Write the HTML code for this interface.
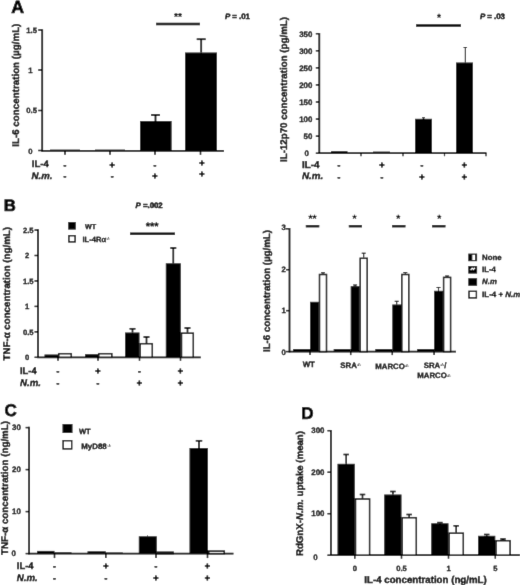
<!DOCTYPE html>
<html><head><meta charset="utf-8"><title>Figure</title>
<style>html,body{margin:0;padding:0;background:#fff}svg{display:block;text-rendering:geometricPrecision}text{font-family:"Liberation Sans",Arial,sans-serif;fill:#000;stroke:#000;stroke-width:.35px}</style>
</head><body>
<svg width="520" height="585" viewBox="0 0 520 585">
<rect width="520" height="585" fill="#fff"/>
<defs><filter id="soft" x="-5" y="-5" width="530" height="595" filterUnits="userSpaceOnUse"><feConvolveMatrix order="3" kernelMatrix="0.006 0.07 0.006 0.07 0.696 0.07 0.006 0.07 0.006" divisor="1" edgeMode="duplicate" preserveAlpha="false"/></filter></defs>
<g filter="url(#soft)">
<rect x="-5" y="-5" width="530" height="595" fill="#fff"/>
<text x="11.2" y="12.6" font-size="17.8" font-weight="bold" font-style="normal" text-anchor="start" style="stroke-width:.7px">A</text>
<line x1="42.2" y1="29.3" x2="42.2" y2="151.5" stroke="#000" stroke-width="1.8"/>
<line x1="41.5" y1="150.8" x2="224" y2="150.8" stroke="#000" stroke-width="1.8"/>
<line x1="38.2" y1="30" x2="42.2" y2="30" stroke="#000" stroke-width="1.5"/>
<text x="37" y="32.6" font-size="7.7" font-weight="bold" font-style="normal" text-anchor="end" style="stroke-width:0.29px">1.5</text>
<line x1="38.2" y1="70" x2="42.2" y2="70" stroke="#000" stroke-width="1.5"/>
<text x="32.5" y="72.6" font-size="7.7" font-weight="bold" font-style="normal" text-anchor="end" style="stroke-width:0.29px">1</text>
<line x1="38.2" y1="110.5" x2="42.2" y2="110.5" stroke="#000" stroke-width="1.5"/>
<text x="37" y="113.1" font-size="7.7" font-weight="bold" font-style="normal" text-anchor="end" style="stroke-width:0.29px">0.5</text>
<line x1="38.2" y1="150.5" x2="42.2" y2="150.5" stroke="#000" stroke-width="1.5"/>
<text x="32.5" y="153.8" font-size="7.7" font-weight="bold" font-style="normal" text-anchor="end" style="stroke-width:0.29px">0</text>
<line x1="65" y1="150.8" x2="65" y2="154.8" stroke="#000" stroke-width="1.55"/>
<line x1="110" y1="150.8" x2="110" y2="154.8" stroke="#000" stroke-width="1.55"/>
<line x1="155" y1="150.8" x2="155" y2="154.8" stroke="#000" stroke-width="1.55"/>
<line x1="200.5" y1="150.8" x2="200.5" y2="154.8" stroke="#000" stroke-width="1.55"/>
<rect x="50" y="149.6" width="30" height="1" fill="#000"/>
<rect x="95" y="149.6" width="30" height="1" fill="#000"/>
<rect x="140" y="121" width="31.599999999999994" height="29.80000000000001" fill="#000"/>
<rect x="185" y="52.5" width="32" height="98.30000000000001" fill="#000"/>
<line x1="155.5" y1="121" x2="155.5" y2="115" stroke="#000" stroke-width="1.8"/>
<line x1="151.0" y1="115" x2="160.0" y2="115" stroke="#000" stroke-width="1.8"/>
<line x1="201.2" y1="52.5" x2="201.2" y2="39.2" stroke="#000" stroke-width="1.8"/>
<line x1="196.7" y1="39.2" x2="205.7" y2="39.2" stroke="#000" stroke-width="1.8"/>
<line x1="156" y1="24" x2="200" y2="24" stroke="#000" stroke-width="2.6"/>
<text x="178" y="20.2" font-size="10.2" font-weight="bold" font-style="normal" text-anchor="middle" style="stroke-width:.15px">**</text>
<text x="225" y="19.3" font-size="7.8" font-weight="bold" font-style="normal" text-anchor="start" style="stroke-width:.5px"><tspan font-style="italic">P</tspan> = .01</text>
<text x="19.3" y="146.8" font-size="9.8" font-weight="bold" font-style="normal" text-anchor="start" transform="rotate(-90 19.3 146.8)" textLength="123.2" lengthAdjust="spacingAndGlyphs" style="stroke-width:0.37px">IL-6 concentration (µg/mL)</text>
<text x="31.8" y="167.3" font-size="9.6" font-weight="bold" font-style="normal" text-anchor="start" style="stroke-width:0.36px">IL-4</text>
<text x="31.6" y="178.9" font-size="9.6" font-weight="bold" font-style="italic" text-anchor="start" style="stroke-width:0.36px">N.m.</text>
<text x="65" y="167.5" font-size="8.5" font-weight="bold" font-style="normal" text-anchor="middle" style="stroke-width:.5px">-</text>
<text x="65" y="179.0" font-size="8.5" font-weight="bold" font-style="normal" text-anchor="middle" style="stroke-width:.5px">-</text>
<text x="112.2" y="167.5" font-size="9" font-weight="bold" font-style="normal" text-anchor="middle" style="stroke-width:.6px">+</text>
<text x="112.2" y="179.0" font-size="8.5" font-weight="bold" font-style="normal" text-anchor="middle" style="stroke-width:.5px">-</text>
<text x="155" y="167.5" font-size="8.5" font-weight="bold" font-style="normal" text-anchor="middle" style="stroke-width:.5px">-</text>
<text x="155" y="179.0" font-size="9" font-weight="bold" font-style="normal" text-anchor="middle" style="stroke-width:.6px">+</text>
<text x="202" y="165.8" font-size="9" font-weight="bold" font-style="normal" text-anchor="middle" style="stroke-width:.6px">+</text>
<text x="202" y="177.3" font-size="9" font-weight="bold" font-style="normal" text-anchor="middle" style="stroke-width:.6px">+</text>
<line x1="319.3" y1="33" x2="319.3" y2="153.89999999999998" stroke="#000" stroke-width="1.8"/>
<line x1="318.6" y1="153.2" x2="486.5" y2="153.2" stroke="#000" stroke-width="1.8"/>
<line x1="315.8" y1="153.2" x2="319.3" y2="153.2" stroke="#000" stroke-width="1.5"/>
<text x="308.8" y="156.0" font-size="7.9" font-weight="bold" font-style="normal" text-anchor="end" style="stroke-width:0.3px">0</text>
<line x1="315.8" y1="136.13" x2="319.3" y2="136.13" stroke="#000" stroke-width="1.5"/>
<text x="312.3" y="138.93" font-size="7.9" font-weight="bold" font-style="normal" text-anchor="end" style="stroke-width:0.3px">50</text>
<line x1="315.8" y1="119.05999999999999" x2="319.3" y2="119.05999999999999" stroke="#000" stroke-width="1.5"/>
<text x="312.3" y="121.85999999999999" font-size="7.9" font-weight="bold" font-style="normal" text-anchor="end" style="stroke-width:0.3px">100</text>
<line x1="315.8" y1="101.98999999999998" x2="319.3" y2="101.98999999999998" stroke="#000" stroke-width="1.5"/>
<text x="312.3" y="104.78999999999998" font-size="7.9" font-weight="bold" font-style="normal" text-anchor="end" style="stroke-width:0.3px">150</text>
<line x1="315.8" y1="84.91999999999999" x2="319.3" y2="84.91999999999999" stroke="#000" stroke-width="1.5"/>
<text x="312.3" y="87.71999999999998" font-size="7.9" font-weight="bold" font-style="normal" text-anchor="end" style="stroke-width:0.3px">200</text>
<line x1="315.8" y1="67.85" x2="319.3" y2="67.85" stroke="#000" stroke-width="1.5"/>
<text x="312.3" y="70.64999999999999" font-size="7.9" font-weight="bold" font-style="normal" text-anchor="end" style="stroke-width:0.3px">250</text>
<line x1="315.8" y1="50.77999999999999" x2="319.3" y2="50.77999999999999" stroke="#000" stroke-width="1.5"/>
<text x="312.3" y="53.579999999999984" font-size="7.9" font-weight="bold" font-style="normal" text-anchor="end" style="stroke-width:0.3px">300</text>
<line x1="315.8" y1="33.70999999999998" x2="319.3" y2="33.70999999999998" stroke="#000" stroke-width="1.5"/>
<text x="312.3" y="36.50999999999998" font-size="7.9" font-weight="bold" font-style="normal" text-anchor="end" style="stroke-width:0.3px">350</text>
<line x1="361" y1="153.2" x2="361" y2="156.2" stroke="#000" stroke-width="1.2"/>
<line x1="403" y1="153.2" x2="403" y2="156.2" stroke="#000" stroke-width="1.2"/>
<line x1="444.5" y1="153.2" x2="444.5" y2="156.2" stroke="#000" stroke-width="1.2"/>
<line x1="486" y1="153.2" x2="486" y2="156.2" stroke="#000" stroke-width="1.2"/>
<rect x="331" y="151.2" width="16.5" height="2.0" fill="#000"/>
<rect x="373" y="151.6" width="17" height="1.5999999999999943" fill="#000"/>
<rect x="415" y="118.8" width="17" height="34.39999999999999" fill="#000"/>
<rect x="456" y="62.5" width="17" height="90.69999999999999" fill="#000"/>
<line x1="465.3" y1="62.5" x2="465.3" y2="47.5" stroke="#000" stroke-width="1.0"/>
<line x1="463.55" y1="47.5" x2="467.05" y2="47.5" stroke="#000" stroke-width="1.0"/>
<line x1="423.5" y1="118.8" x2="423.5" y2="117.8" stroke="#000" stroke-width="1.0"/>
<line x1="422.0" y1="117.8" x2="425.0" y2="117.8" stroke="#000" stroke-width="1.0"/>
<line x1="416" y1="25.6" x2="461" y2="25.6" stroke="#000" stroke-width="2.5"/>
<text x="439" y="21.1" font-size="10.3" font-weight="bold" font-style="normal" text-anchor="middle" style="stroke-width:.15px">*</text>
<text x="480" y="19.3" font-size="7.8" font-weight="bold" font-style="normal" text-anchor="start" style="stroke-width:.5px"><tspan font-style="italic">P</tspan> = .03</text>
<text x="287.3" y="162" font-size="9.8" font-weight="bold" font-style="normal" text-anchor="start" transform="rotate(-90 287.3 162)" textLength="145" lengthAdjust="spacingAndGlyphs" style="stroke-width:0.37px">IL-12p70 concentration (pg/mL)</text>
<text x="302" y="167.5" font-size="9.8" font-weight="bold" font-style="normal" text-anchor="start" textLength="17.5" lengthAdjust="spacingAndGlyphs" style="stroke-width:0.37px">IL-4</text>
<text x="302" y="179.1" font-size="9.6" font-weight="bold" font-style="italic" text-anchor="start" textLength="21.3" lengthAdjust="spacingAndGlyphs" style="stroke-width:0.36px">N.m.</text>
<text x="339" y="168.0" font-size="8.5" font-weight="bold" font-style="normal" text-anchor="middle" style="stroke-width:.5px">-</text>
<text x="339" y="180.0" font-size="8.5" font-weight="bold" font-style="normal" text-anchor="middle" style="stroke-width:.5px">-</text>
<text x="382" y="168.0" font-size="9" font-weight="bold" font-style="normal" text-anchor="middle" style="stroke-width:.6px">+</text>
<text x="382" y="180.0" font-size="8.5" font-weight="bold" font-style="normal" text-anchor="middle" style="stroke-width:.5px">-</text>
<text x="422" y="168.0" font-size="8.5" font-weight="bold" font-style="normal" text-anchor="middle" style="stroke-width:.5px">-</text>
<text x="422" y="180.0" font-size="9" font-weight="bold" font-style="normal" text-anchor="middle" style="stroke-width:.6px">+</text>
<text x="464.5" y="168.0" font-size="9" font-weight="bold" font-style="normal" text-anchor="middle" style="stroke-width:.6px">+</text>
<text x="464.5" y="180.0" font-size="9" font-weight="bold" font-style="normal" text-anchor="middle" style="stroke-width:.6px">+</text>
<text x="3.8" y="210.7" font-size="16.7" font-weight="bold" font-style="normal" text-anchor="start" style="stroke-width:.7px">B</text>
<line x1="38" y1="229.3" x2="38" y2="358.0" stroke="#000" stroke-width="1.8"/>
<line x1="37.3" y1="357.3" x2="200.8" y2="357.3" stroke="#000" stroke-width="1.8"/>
<line x1="34.5" y1="357.3" x2="38" y2="357.3" stroke="#000" stroke-width="1.5"/>
<text x="29.3" y="360.2" font-size="7.7" font-weight="bold" font-style="normal" text-anchor="end" style="stroke-width:0.29px">0</text>
<line x1="34.5" y1="331.85" x2="38" y2="331.85" stroke="#000" stroke-width="1.5"/>
<text x="33.6" y="334.75" font-size="7.7" font-weight="bold" font-style="normal" text-anchor="end" style="stroke-width:0.29px">0.5</text>
<line x1="34.5" y1="306.40000000000003" x2="38" y2="306.40000000000003" stroke="#000" stroke-width="1.5"/>
<text x="29.3" y="309.3" font-size="7.7" font-weight="bold" font-style="normal" text-anchor="end" style="stroke-width:0.29px">1</text>
<line x1="34.5" y1="280.95000000000005" x2="38" y2="280.95000000000005" stroke="#000" stroke-width="1.5"/>
<text x="33.6" y="283.85" font-size="7.7" font-weight="bold" font-style="normal" text-anchor="end" style="stroke-width:0.29px">1.5</text>
<line x1="34.5" y1="255.5" x2="38" y2="255.5" stroke="#000" stroke-width="1.5"/>
<text x="29.3" y="258.4" font-size="7.7" font-weight="bold" font-style="normal" text-anchor="end" style="stroke-width:0.29px">2</text>
<line x1="34.5" y1="230.05" x2="38" y2="230.05" stroke="#000" stroke-width="1.5"/>
<text x="33.6" y="232.95000000000002" font-size="7.7" font-weight="bold" font-style="normal" text-anchor="end" style="stroke-width:0.29px">2.5</text>
<line x1="58" y1="357.3" x2="58" y2="360.8" stroke="#000" stroke-width="1.5"/>
<line x1="98" y1="357.3" x2="98" y2="360.8" stroke="#000" stroke-width="1.5"/>
<line x1="139.5" y1="357.3" x2="139.5" y2="360.8" stroke="#000" stroke-width="1.5"/>
<line x1="180.5" y1="357.3" x2="180.5" y2="360.8" stroke="#000" stroke-width="1.5"/>
<rect x="44.5" y="354.5" width="13.5" height="2.8000000000000114" fill="#000"/>
<rect x="58.7" y="353.7" width="12.6" height="3.600000000000011" fill="#fff" stroke="#000" stroke-width="1.5"/>
<rect x="85" y="354.2" width="13" height="3.1000000000000227" fill="#000"/>
<rect x="98.7" y="353.7" width="13.1" height="3.600000000000011" fill="#fff" stroke="#000" stroke-width="1.5"/>
<rect x="125" y="332.5" width="14.5" height="24.80000000000001" fill="#000"/>
<rect x="140.2" y="343.7" width="12.1" height="13.600000000000012" fill="#fff" stroke="#000" stroke-width="1.5"/>
<rect x="165.8" y="263.3" width="15.0" height="94.0" fill="#000"/>
<rect x="181.5" y="333.2" width="11.799999999999988" height="24.100000000000012" fill="#fff" stroke="#000" stroke-width="1.5"/>
<line x1="132.5" y1="332.5" x2="132.5" y2="328.8" stroke="#000" stroke-width="1.7"/>
<line x1="129.5" y1="328.8" x2="135.5" y2="328.8" stroke="#000" stroke-width="1.7"/>
<line x1="146.5" y1="343" x2="146.5" y2="337" stroke="#000" stroke-width="1.7"/>
<line x1="143.5" y1="337" x2="149.5" y2="337" stroke="#000" stroke-width="1.7"/>
<line x1="173.3" y1="263.3" x2="173.3" y2="248" stroke="#000" stroke-width="1.7"/>
<line x1="170.3" y1="248" x2="176.3" y2="248" stroke="#000" stroke-width="1.7"/>
<line x1="187.5" y1="332.5" x2="187.5" y2="328" stroke="#000" stroke-width="1.7"/>
<line x1="184.5" y1="328" x2="190.5" y2="328" stroke="#000" stroke-width="1.7"/>
<line x1="130" y1="233.7" x2="175" y2="233.7" stroke="#000" stroke-width="2.6"/>
<text x="152.2" y="229.8" font-size="11" font-weight="bold" font-style="normal" text-anchor="middle" style="stroke-width:.15px">***</text>
<text x="135.6" y="208.2" font-size="7.8" font-weight="bold" font-style="normal" text-anchor="start" style="stroke-width:.5px"><tspan font-style="italic">P</tspan> =.002</text>
<rect x="68.2" y="222" width="7.6" height="7.6" fill="#000"/>
<text x="85" y="229.3" font-size="7.2" font-weight="bold" font-style="normal" text-anchor="start" style="stroke-width:0.27px">WT</text>
<rect x="68.9" y="235.7" width="6.2" height="6.2" fill="#fff" stroke="#000" stroke-width="1.4"/>
<text x="82.5" y="242" font-size="7.6" font-weight="bold" font-style="normal" text-anchor="start" style="stroke-width:0.29px">IL-4Rα<tspan font-size="4" dy="-1.8" style="stroke-width:.08px">-/-</tspan></text>
<text x="10.3" y="360.5" font-size="9.8" font-weight="bold" font-style="normal" text-anchor="start" transform="rotate(-90 10.3 360.5)" textLength="133.5" lengthAdjust="spacingAndGlyphs" style="stroke-width:0.37px">TNF-α concentration (ng/mL)</text>
<text x="20" y="373.8" font-size="9.4" font-weight="bold" font-style="normal" text-anchor="start" style="stroke-width:0.36px">IL-4</text>
<text x="20" y="386.1" font-size="9.7" font-weight="bold" font-style="italic" text-anchor="start" style="stroke-width:0.37px">N.m.</text>
<text x="58" y="373.5" font-size="8.5" font-weight="bold" font-style="normal" text-anchor="middle" style="stroke-width:.5px">-</text>
<text x="58" y="385.5" font-size="8.5" font-weight="bold" font-style="normal" text-anchor="middle" style="stroke-width:.5px">-</text>
<text x="98" y="373.5" font-size="9" font-weight="bold" font-style="normal" text-anchor="middle" style="stroke-width:.6px">+</text>
<text x="98" y="385.5" font-size="8.5" font-weight="bold" font-style="normal" text-anchor="middle" style="stroke-width:.5px">-</text>
<text x="139.5" y="373.5" font-size="8.5" font-weight="bold" font-style="normal" text-anchor="middle" style="stroke-width:.5px">-</text>
<text x="139.5" y="385.5" font-size="9" font-weight="bold" font-style="normal" text-anchor="middle" style="stroke-width:.6px">+</text>
<text x="180.5" y="373.5" font-size="9" font-weight="bold" font-style="normal" text-anchor="middle" style="stroke-width:.6px">+</text>
<text x="180.5" y="385.5" font-size="9" font-weight="bold" font-style="normal" text-anchor="middle" style="stroke-width:.6px">+</text>
<defs><pattern id="hv" width="3" height="3" patternUnits="userSpaceOnUse"><rect width="3" height="3" fill="#fff"/><rect width="1.5" height="3" fill="#000"/></pattern><pattern id="hd" width="3" height="3" patternUnits="userSpaceOnUse"><rect width="3" height="3" fill="#000"/><path d="M0,3 L3,0" stroke="#fff" stroke-width="1"/></pattern></defs>
<line x1="289.5" y1="228" x2="289.5" y2="352.3" stroke="#000" stroke-width="1.8"/>
<line x1="288.8" y1="351.6" x2="456" y2="351.6" stroke="#000" stroke-width="1.8"/>
<line x1="286.0" y1="351.6" x2="289.5" y2="351.6" stroke="#000" stroke-width="1.5"/>
<text x="285.8" y="354.5" font-size="7.8" font-weight="bold" font-style="normal" text-anchor="end" style="stroke-width:0.3px">0</text>
<line x1="286.0" y1="310.65000000000003" x2="289.5" y2="310.65000000000003" stroke="#000" stroke-width="1.5"/>
<text x="285.8" y="313.15000000000003" font-size="7.8" font-weight="bold" font-style="normal" text-anchor="end" style="stroke-width:0.3px">1</text>
<line x1="286.0" y1="269.70000000000005" x2="289.5" y2="269.70000000000005" stroke="#000" stroke-width="1.5"/>
<text x="285.8" y="271.8" font-size="7.8" font-weight="bold" font-style="normal" text-anchor="end" style="stroke-width:0.3px">2</text>
<line x1="286.0" y1="228.75" x2="289.5" y2="228.75" stroke="#000" stroke-width="1.5"/>
<text x="285.8" y="230.45000000000002" font-size="7.8" font-weight="bold" font-style="normal" text-anchor="end" style="stroke-width:0.3px">3</text>
<line x1="310" y1="351.6" x2="310" y2="355.1" stroke="#000" stroke-width="1.5"/>
<rect x="293" y="349" width="17" height="2.3" fill="#000"/>
<rect x="310" y="301.8" width="8.800000000000011" height="49.80000000000001" fill="#000"/>
<rect x="319.5" y="274.5" width="6.999999999999977" height="77.10000000000001" fill="#fff" stroke="#000" stroke-width="1.5"/>
<line x1="323" y1="273.8" x2="323" y2="272.8" stroke="#000" stroke-width="1.1"/>
<line x1="321.0" y1="272.8" x2="325.0" y2="272.8" stroke="#000" stroke-width="1.1"/>
<line x1="350.7" y1="351.6" x2="350.7" y2="355.1" stroke="#000" stroke-width="1.5"/>
<rect x="333.7" y="349" width="17" height="2.3" fill="#000"/>
<rect x="350.7" y="286.2" width="8.800000000000011" height="65.40000000000003" fill="#000"/>
<rect x="360.2" y="258.3" width="6.999999999999977" height="93.3" fill="#fff" stroke="#000" stroke-width="1.5"/>
<line x1="355.09999999999997" y1="286.2" x2="355.09999999999997" y2="285" stroke="#000" stroke-width="1.1"/>
<line x1="353.09999999999997" y1="285" x2="357.09999999999997" y2="285" stroke="#000" stroke-width="1.1"/>
<line x1="363.7" y1="257.6" x2="363.7" y2="253.2" stroke="#000" stroke-width="1.1"/>
<line x1="361.7" y1="253.2" x2="365.7" y2="253.2" stroke="#000" stroke-width="1.1"/>
<line x1="392.3" y1="351.6" x2="392.3" y2="355.1" stroke="#000" stroke-width="1.5"/>
<rect x="375.3" y="349" width="17" height="2.3" fill="#000"/>
<rect x="392.3" y="304.5" width="8.800000000000011" height="47.10000000000002" fill="#000"/>
<rect x="401.8" y="274.5" width="6.999999999999977" height="77.10000000000001" fill="#fff" stroke="#000" stroke-width="1.5"/>
<line x1="396.7" y1="304.5" x2="396.7" y2="301.3" stroke="#000" stroke-width="1.1"/>
<line x1="394.7" y1="301.3" x2="398.7" y2="301.3" stroke="#000" stroke-width="1.1"/>
<line x1="405.3" y1="273.8" x2="405.3" y2="272.6" stroke="#000" stroke-width="1.1"/>
<line x1="403.3" y1="272.6" x2="407.3" y2="272.6" stroke="#000" stroke-width="1.1"/>
<line x1="434.1" y1="351.6" x2="434.1" y2="355.1" stroke="#000" stroke-width="1.5"/>
<rect x="417.1" y="349" width="17" height="2.3" fill="#000"/>
<rect x="434.1" y="290.8" width="8.800000000000011" height="60.80000000000001" fill="#000"/>
<rect x="443.6" y="277.4" width="6.999999999999977" height="74.20000000000003" fill="#fff" stroke="#000" stroke-width="1.5"/>
<line x1="438.5" y1="290.8" x2="438.5" y2="287.5" stroke="#000" stroke-width="1.1"/>
<line x1="436.5" y1="287.5" x2="440.5" y2="287.5" stroke="#000" stroke-width="1.1"/>
<line x1="447.1" y1="276.7" x2="447.1" y2="276.0" stroke="#000" stroke-width="1.1"/>
<line x1="445.1" y1="276.0" x2="449.1" y2="276.0" stroke="#000" stroke-width="1.1"/>
<line x1="305.8" y1="226.2" x2="319.3" y2="226.2" stroke="#000" stroke-width="2.4"/>
<line x1="348.8" y1="226.2" x2="362" y2="226.2" stroke="#000" stroke-width="2.4"/>
<line x1="392" y1="226.2" x2="405.5" y2="226.2" stroke="#000" stroke-width="2.4"/>
<line x1="432" y1="226.2" x2="445.5" y2="226.2" stroke="#000" stroke-width="2.4"/>
<text x="312.6" y="222.1" font-size="10.3" font-weight="bold" font-style="normal" text-anchor="middle" style="stroke-width:.15px">**</text>
<text x="354.6" y="222.1" font-size="10.3" font-weight="bold" font-style="normal" text-anchor="middle" style="stroke-width:.15px">*</text>
<text x="398.3" y="222.1" font-size="10.3" font-weight="bold" font-style="normal" text-anchor="middle" style="stroke-width:.15px">*</text>
<text x="439.3" y="222.1" font-size="10.3" font-weight="bold" font-style="normal" text-anchor="middle" style="stroke-width:.15px">*</text>
<text x="270.4" y="352" font-size="9.8" font-weight="bold" font-style="normal" text-anchor="start" transform="rotate(-90 270.4 352)" textLength="122" lengthAdjust="spacingAndGlyphs" style="stroke-width:0.37px">IL-6 concentration (µg/mL)</text>
<text x="308.8" y="367.0" font-size="7.9" font-weight="bold" font-style="normal" text-anchor="middle" style="stroke-width:0.3px">WT</text>
<text x="350.6" y="368" font-size="7.9" font-weight="bold" font-style="normal" text-anchor="middle" style="stroke-width:0.3px">SRA<tspan font-size="4.2" dy="-1.7" style="stroke-width:.08px">-/-</tspan></text>
<text x="392" y="368.8" font-size="7.8" font-weight="bold" font-style="normal" text-anchor="middle" style="stroke-width:0.3px">MARCO<tspan font-size="4.2" dy="-1.7" style="stroke-width:.08px">-/-</tspan></text>
<text x="435" y="367.5" font-size="7.8" font-weight="bold" font-style="normal" text-anchor="middle" style="stroke-width:0.3px">SRA<tspan font-size="4.2" dy="-1.7" style="stroke-width:.08px">-/-</tspan><tspan dy="1.7">/</tspan></text>
<text x="434" y="378.3" font-size="7.8" font-weight="bold" font-style="normal" text-anchor="middle" style="stroke-width:0.3px">MARCO<tspan font-size="4.2" dy="-1.7" style="stroke-width:.08px">-/-</tspan></text>
<rect x="468.3" y="253.6" width="8.8" height="7.6" fill="#000"/>
<rect x="472.3" y="254.7" width="2.7" height="5.4" fill="#fff"/>
<rect x="468.3" y="266.0" width="8.8" height="7.6" fill="#000"/>
<path d="M470.6,270.2 L472.2,268.2 L473.4,269.4 L475,267.8" stroke="#fff" stroke-width="1.3" fill="none"/>
<rect x="468.3" y="278.2" width="8.8" height="7.6" fill="#000"/>
<rect x="469.0" y="291.3" width="7.4" height="6.6" fill="#fff" stroke="#000" stroke-width="1.4"/>
<text x="482.1" y="259.8" font-size="7.8" font-weight="bold" font-style="normal" text-anchor="start" style="stroke-width:0.3px">None</text>
<text x="482.1" y="272.3" font-size="7.8" font-weight="bold" font-style="normal" text-anchor="start" style="stroke-width:0.3px">IL-4</text>
<text x="482.1" y="284.3" font-size="7.8" font-weight="bold" font-style="italic" text-anchor="start" style="stroke-width:0.3px">N.m</text>
<text x="482.1" y="297" font-size="7.8" font-weight="bold" font-style="normal" text-anchor="start" textLength="38.3" lengthAdjust="spacingAndGlyphs" style="stroke-width:0.3px">IL-4 + <tspan font-style="italic">N.m</tspan></text>
<text x="4.5" y="415.5" font-size="17" font-weight="bold" font-style="normal" text-anchor="start" style="stroke-width:.7px">C</text>
<line x1="29.1" y1="426.8" x2="29.1" y2="554.3000000000001" stroke="#000" stroke-width="1.8"/>
<line x1="28.400000000000002" y1="553.6" x2="233.5" y2="553.6" stroke="#000" stroke-width="1.8"/>
<line x1="25.6" y1="553.6" x2="29.1" y2="553.6" stroke="#000" stroke-width="1.5"/>
<text x="16.0" y="556.4" font-size="7.9" font-weight="bold" font-style="normal" text-anchor="end" style="stroke-width:0.3px">0</text>
<line x1="25.6" y1="511.6" x2="29.1" y2="511.6" stroke="#000" stroke-width="1.5"/>
<text x="20.8" y="514.4" font-size="7.9" font-weight="bold" font-style="normal" text-anchor="end" style="stroke-width:0.3px">10</text>
<line x1="25.6" y1="469.6" x2="29.1" y2="469.6" stroke="#000" stroke-width="1.5"/>
<text x="20.8" y="472.40000000000003" font-size="7.9" font-weight="bold" font-style="normal" text-anchor="end" style="stroke-width:0.3px">20</text>
<line x1="25.6" y1="427.6" x2="29.1" y2="427.6" stroke="#000" stroke-width="1.5"/>
<text x="20.8" y="429.6" font-size="7.9" font-weight="bold" font-style="normal" text-anchor="end" style="stroke-width:0.3px">30</text>
<line x1="54.5" y1="553.6" x2="54.5" y2="558.1" stroke="#000" stroke-width="1.55"/>
<line x1="105.8" y1="553.6" x2="105.8" y2="558.1" stroke="#000" stroke-width="1.55"/>
<line x1="156" y1="553.6" x2="156" y2="558.1" stroke="#000" stroke-width="1.55"/>
<line x1="207.5" y1="553.6" x2="207.5" y2="558.1" stroke="#000" stroke-width="1.55"/>
<rect x="37" y="550.9" width="17.5" height="2.7000000000000455" fill="#000"/>
<rect x="54.5" y="552.3" width="17" height="1" fill="#000"/>
<rect x="87.5" y="551.3" width="18.299999999999997" height="2.300000000000068" fill="#000"/>
<rect x="105.8" y="552.5" width="17" height="0.8" fill="#000"/>
<rect x="138.8" y="536.3" width="18.0" height="17.300000000000068" fill="#000"/>
<rect x="157.5" y="552.2" width="15.6" height="1.4000000000000228" fill="#fff" stroke="#000" stroke-width="1.5"/>
<rect x="189.5" y="448" width="18.5" height="105.60000000000002" fill="#000"/>
<rect x="208.7" y="551.1" width="15.6" height="2.5000000000000453" fill="#fff" stroke="#000" stroke-width="1.5"/>
<line x1="199" y1="448" x2="199" y2="440.8" stroke="#000" stroke-width="1.7"/>
<line x1="195.75" y1="440.8" x2="202.25" y2="440.8" stroke="#000" stroke-width="1.7"/>
<line x1="147.5" y1="536.3" x2="147.5" y2="535.5" stroke="#000" stroke-width="1"/>
<rect x="62.5" y="424" width="10" height="9" fill="#000"/>
<text x="78.9" y="433.6" font-size="7.6" font-weight="bold" font-style="normal" text-anchor="start" style="stroke-width:0.29px">WT</text>
<rect x="63.1" y="440.7" width="8.6" height="8.2" fill="#fff" stroke="#000" stroke-width="1.4"/>
<text x="81.3" y="448.9" font-size="7.9" font-weight="bold" font-style="normal" text-anchor="start" style="stroke-width:0.3px">MyD88<tspan font-size="4" dx="0.6" dy="-1.6" style="stroke-width:.08px">-/-</tspan></text>
<text x="7.8" y="555" font-size="9.8" font-weight="bold" font-style="normal" text-anchor="start" transform="rotate(-90 7.8 555)" textLength="134" lengthAdjust="spacingAndGlyphs" style="stroke-width:0.37px">TNF-α concentration (ng/mL)</text>
<text x="16.8" y="569.1" font-size="9.4" font-weight="bold" font-style="normal" text-anchor="start" style="stroke-width:0.36px">IL-4</text>
<text x="16.7" y="581.4" font-size="9.7" font-weight="bold" font-style="italic" text-anchor="start" style="stroke-width:0.37px">N.m.</text>
<text x="54.5" y="569.0" font-size="8.5" font-weight="bold" font-style="normal" text-anchor="middle" style="stroke-width:.5px">-</text>
<text x="54.5" y="581.3" font-size="8.5" font-weight="bold" font-style="normal" text-anchor="middle" style="stroke-width:.5px">-</text>
<text x="105.8" y="569.0" font-size="9" font-weight="bold" font-style="normal" text-anchor="middle" style="stroke-width:.6px">+</text>
<text x="105.8" y="581.3" font-size="8.5" font-weight="bold" font-style="normal" text-anchor="middle" style="stroke-width:.5px">-</text>
<text x="156" y="569.0" font-size="8.5" font-weight="bold" font-style="normal" text-anchor="middle" style="stroke-width:.5px">-</text>
<text x="156" y="581.3" font-size="9" font-weight="bold" font-style="normal" text-anchor="middle" style="stroke-width:.6px">+</text>
<text x="207.5" y="569.0" font-size="9" font-weight="bold" font-style="normal" text-anchor="middle" style="stroke-width:.6px">+</text>
<text x="207.5" y="581.3" font-size="9" font-weight="bold" font-style="normal" text-anchor="middle" style="stroke-width:.6px">+</text>
<text x="301.3" y="418.9" font-size="17" font-weight="bold" font-style="normal" text-anchor="start" style="stroke-width:.7px">D</text>
<line x1="330.9" y1="430" x2="330.9" y2="555.9000000000001" stroke="#000" stroke-width="1.8"/>
<line x1="330.2" y1="555.2" x2="520" y2="555.2" stroke="#000" stroke-width="1.8"/>
<line x1="327.4" y1="555.2" x2="330.9" y2="555.2" stroke="#000" stroke-width="1.5"/>
<text x="317.7" y="560.1" font-size="7.9" font-weight="bold" font-style="normal" text-anchor="end" style="stroke-width:0.3px">0</text>
<line x1="327.4" y1="513.7" x2="330.9" y2="513.7" stroke="#000" stroke-width="1.5"/>
<text x="324.5" y="516.4000000000001" font-size="7.9" font-weight="bold" font-style="normal" text-anchor="end" style="stroke-width:0.3px">100</text>
<line x1="327.4" y1="472.20000000000005" x2="330.9" y2="472.20000000000005" stroke="#000" stroke-width="1.5"/>
<text x="324.5" y="474.90000000000003" font-size="7.9" font-weight="bold" font-style="normal" text-anchor="end" style="stroke-width:0.3px">200</text>
<line x1="327.4" y1="430.70000000000005" x2="330.9" y2="430.70000000000005" stroke="#000" stroke-width="1.5"/>
<text x="324.5" y="433.40000000000003" font-size="7.9" font-weight="bold" font-style="normal" text-anchor="end" style="stroke-width:0.3px">300</text>
<line x1="354.8" y1="555.2" x2="354.8" y2="558.7" stroke="#000" stroke-width="1.5"/>
<rect x="337.5" y="463.8" width="17.30000000000001" height="91.40000000000003" fill="#000"/>
<rect x="355.5" y="499.0" width="14.1" height="56.20000000000003" fill="#fff" stroke="#000" stroke-width="1.5"/>
<line x1="346.2" y1="463.8" x2="346.2" y2="454.5" stroke="#000" stroke-width="1.6"/>
<line x1="343.45" y1="454.5" x2="348.95" y2="454.5" stroke="#000" stroke-width="1.6"/>
<line x1="362.5" y1="498.3" x2="362.5" y2="494.5" stroke="#000" stroke-width="1.6"/>
<line x1="359.75" y1="494.5" x2="365.25" y2="494.5" stroke="#000" stroke-width="1.6"/>
<text x="354.8" y="571.2" font-size="7.6" font-weight="bold" font-style="normal" text-anchor="middle" style="stroke-width:0.29px">0</text>
<line x1="401.5" y1="555.2" x2="401.5" y2="558.7" stroke="#000" stroke-width="1.5"/>
<rect x="384.2" y="494.5" width="17.30000000000001" height="60.700000000000045" fill="#000"/>
<rect x="402.2" y="517.7" width="14.1" height="37.50000000000004" fill="#fff" stroke="#000" stroke-width="1.5"/>
<line x1="392.9" y1="494.5" x2="392.9" y2="491.5" stroke="#000" stroke-width="1.6"/>
<line x1="390.15" y1="491.5" x2="395.65" y2="491.5" stroke="#000" stroke-width="1.6"/>
<line x1="409.2" y1="517" x2="409.2" y2="514.5" stroke="#000" stroke-width="1.6"/>
<line x1="406.45" y1="514.5" x2="411.95" y2="514.5" stroke="#000" stroke-width="1.6"/>
<text x="401.5" y="571.2" font-size="7.6" font-weight="bold" font-style="normal" text-anchor="middle" style="stroke-width:0.29px">0.5</text>
<line x1="448.5" y1="555.2" x2="448.5" y2="558.7" stroke="#000" stroke-width="1.5"/>
<rect x="431.2" y="523.3" width="17.30000000000001" height="31.90000000000009" fill="#000"/>
<rect x="449.2" y="533.2" width="14.1" height="22.000000000000046" fill="#fff" stroke="#000" stroke-width="1.5"/>
<line x1="439.9" y1="523.3" x2="439.9" y2="522.6" stroke="#000" stroke-width="1.6"/>
<line x1="437.15" y1="522.6" x2="442.65" y2="522.6" stroke="#000" stroke-width="1.6"/>
<line x1="456.2" y1="532.5" x2="456.2" y2="525.8" stroke="#000" stroke-width="1.6"/>
<line x1="453.45" y1="525.8" x2="458.95" y2="525.8" stroke="#000" stroke-width="1.6"/>
<text x="448.5" y="571.2" font-size="7.6" font-weight="bold" font-style="normal" text-anchor="middle" style="stroke-width:0.29px">1</text>
<line x1="495.3" y1="555.2" x2="495.3" y2="558.7" stroke="#000" stroke-width="1.5"/>
<rect x="478.0" y="535.8" width="17.30000000000001" height="19.40000000000009" fill="#000"/>
<rect x="496.0" y="540.7" width="14.1" height="14.500000000000046" fill="#fff" stroke="#000" stroke-width="1.5"/>
<line x1="486.7" y1="535.8" x2="486.7" y2="534.5" stroke="#000" stroke-width="1.6"/>
<line x1="483.95" y1="534.5" x2="489.45" y2="534.5" stroke="#000" stroke-width="1.6"/>
<line x1="503.0" y1="540" x2="503.0" y2="539" stroke="#000" stroke-width="1.6"/>
<line x1="500.25" y1="539" x2="505.75" y2="539" stroke="#000" stroke-width="1.6"/>
<text x="495.3" y="571.2" font-size="7.6" font-weight="bold" font-style="normal" text-anchor="middle" style="stroke-width:0.29px">5</text>
<text x="364.3" y="583.3" font-size="9.9" font-weight="bold" font-style="normal" text-anchor="start" textLength="122.5" lengthAdjust="spacingAndGlyphs" style="stroke-width:0.38px">IL-4 concentration (ng/mL)</text>
<text x="303.4" y="556" font-size="9.8" font-weight="bold" font-style="normal" text-anchor="start" transform="rotate(-90 303.4 556)" textLength="125" lengthAdjust="spacingAndGlyphs" style="stroke-width:0.37px">RdGnX-<tspan font-style="italic">N.m.</tspan> uptake (mean)</text>
</g>
</svg>
</body></html>
